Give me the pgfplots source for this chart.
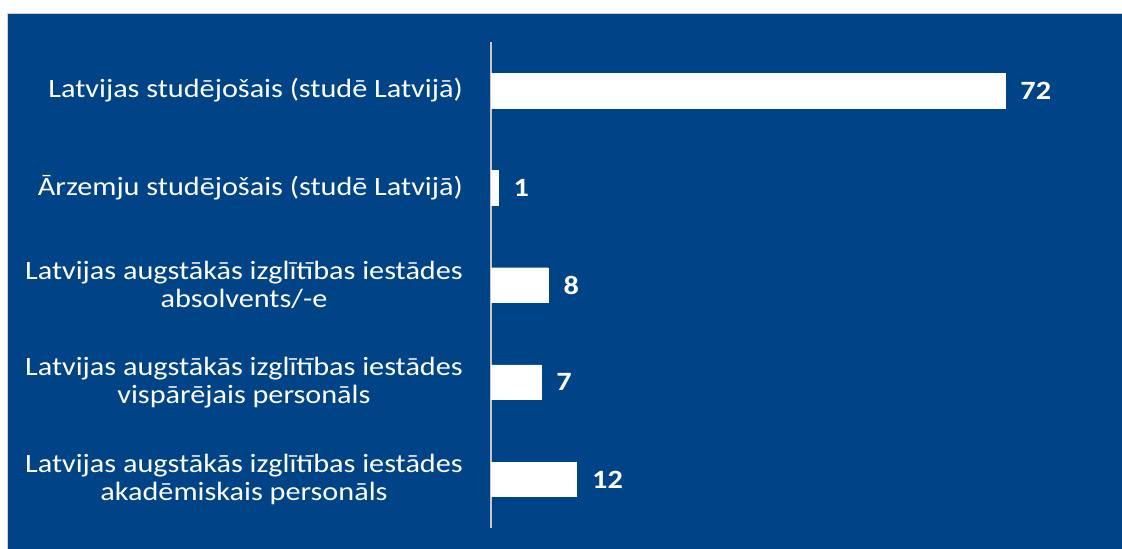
\documentclass[border=0pt]{standalone}
\usepackage{pgfplots}
\pgfplotsset{compat=1.18}
\usepackage{fontspec}
\setmainfont{Carlito}[FakeStretch=1.145]
\definecolor{bgblue}{RGB}{0,68,135}
\definecolor{framegray}{RGB}{208,208,208}
\definecolor{axgray}{RGB}{200,200,200}
\begin{document}
\begin{tikzpicture}[x=1bp,y=1bp]
\path[use as bounding box,fill=white] (0,0) rectangle (1122,549);
\fill[framegray] (7,0) rectangle (1122,536);
\fill[bgblue] (8,0) rectangle (1122,535);
\begin{axis}[
  at={(491bp,21bp)}, anchor=south west,
  scale only axis, width=571bp, height=486bp,
  xmin=0, xmax=80, ymin=0.5, ymax=5.5,
  axis x line=none,
  axis y line*=left,
  y axis line style={draw=axgray, line width=1.6bp, -},
  ytick={1,2,3,4,5},
  yticklabels={{Latvijas augstākās izglītības iestādes\\akadēmiskais personāls},
               {Latvijas augstākās izglītības iestādes\\vispārējais personāls},
               {Latvijas augstākās izglītības iestādes\\absolvents/-e},
               {Ārzemju studējošais (studē Latvijā)},
               {Latvijas studējošais (studē Latvijā)}},
  major tick length=0pt,
  yticklabel style={align=center, text=white, inner sep=0pt, xshift=-28bp,
    font=\fontsize{26.4bp}{28bp}\selectfont},
  xbar, bar width=0.355,
  nodes near coords,
  /pgf/number format/assume math mode=true,
  every node near coord/.append style={text=white, font=\fontsize{26.4bp}{28bp}\selectfont\bfseries, xshift=12bp},
  clip=false,
]
\addplot[fill=white, draw=white] coordinates {(12,1) (7,2) (8,3) (1,4) (72,5)};
\end{axis}
\end{tikzpicture}
\end{document}
